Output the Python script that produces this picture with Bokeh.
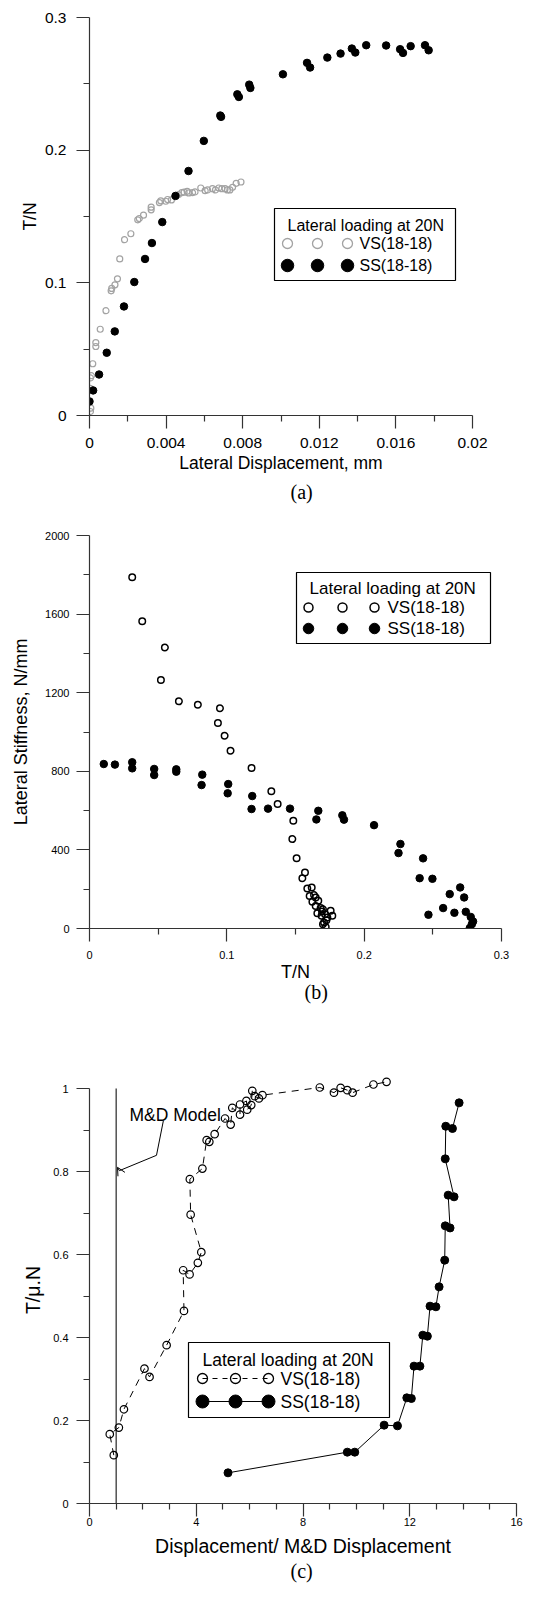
import numpy as np
from bokeh.plotting import figure
from bokeh.models import Range1d, FixedTicker, CustomJSTickFormatter, Label, Arrow, OpenHead, Title
from bokeh.layouts import column
from bokeh.embed import file_html
from bokeh.resources import INLINE
from bokeh.core.properties import value

SANS = "Liberation Sans"
SERIF = "Liberation Serif"

# ---------------- data: panel (a) ----------------
a_vs_x = [0.00005, 0.00007, 0.00003, 0.00005, 0.0001, 0.00017, 0.00033, 0.00033, 0.00056, 0.00086,
          0.00113, 0.00116, 0.00133, 0.00146, 0.00158, 0.00183, 0.00216, 0.00252, 0.0026, 0.00282,
          0.00322, 0.00322, 0.00365, 0.00372, 0.00398, 0.00408, 0.00428, 0.00465, 0.00482, 0.00494,
          0.0051, 0.00518, 0.00538, 0.00551, 0.00581, 0.00604, 0.00617, 0.00642, 0.00658, 0.00675,
          0.00691, 0.00708, 0.0072, 0.00733, 0.00747, 0.00766, 0.00791]
a_vs_y = [0.003, 0.0055, 0.0205, 0.0283, 0.030, 0.039, 0.052, 0.055, 0.065, 0.079,
          0.094, 0.0958, 0.0985, 0.103, 0.118, 0.1325, 0.137, 0.1475, 0.1485, 0.151,
          0.155, 0.157, 0.1605, 0.1618, 0.1615, 0.1628, 0.1625, 0.1665, 0.168, 0.1683,
          0.169, 0.1678, 0.168, 0.1685, 0.1715, 0.1695, 0.170, 0.171, 0.170, 0.1715,
          0.171, 0.171, 0.170, 0.170, 0.172, 0.175, 0.176]
a_ss_x = [0.0, 0.00019, 0.0005, 0.0009, 0.00132, 0.0018, 0.00234, 0.0029, 0.00326, 0.0038,
          0.00449, 0.00517, 0.00597, 0.00683, 0.00687, 0.00772, 0.0078, 0.00834, 0.0084, 0.0101,
          0.01136, 0.01152, 0.01242, 0.01311, 0.0137, 0.01388, 0.01445, 0.01549, 0.01622, 0.01637,
          0.01677, 0.01752, 0.01771]
a_ss_y = [0.0106, 0.0189, 0.0309, 0.0473, 0.0634, 0.0822, 0.1006, 0.118, 0.130, 0.1458,
          0.1655, 0.1843, 0.207, 0.2261, 0.2251, 0.2421, 0.2401, 0.2494, 0.2469, 0.2572,
          0.2658, 0.2623, 0.2698, 0.2728, 0.2766, 0.2736, 0.2791, 0.2789, 0.2761, 0.2733,
          0.2784, 0.2791, 0.2753]
a_xticks = [0, 0.004, 0.008, 0.012, 0.016, 0.02]
a_yticks = [0, 0.1, 0.2, 0.3]

# ---------------- data: panel (b) ----------------
b_vs_x = [0.0311, 0.0384, 0.0549, 0.052, 0.0651, 0.0789, 0.095, 0.0935, 0.0984, 0.1027,
          0.118, 0.1324, 0.137, 0.1484, 0.1477, 0.1508, 0.1569, 0.155, 0.1586, 0.1618,
          0.1603, 0.1635, 0.1623, 0.1647, 0.1666, 0.1647, 0.1659, 0.1683, 0.170, 0.1715,
          0.169, 0.1732, 0.1756, 0.1768, 0.1708, 0.172, 0.170, 0.1725, 0.1693]
b_vs_y = [1788, 1564, 1430, 1265, 1156, 1139, 1121, 1046, 981, 905,
          817, 698, 633, 548, 455, 357, 285, 256, 204, 209,
          166, 170, 136, 158, 141, 115, 78, 104, 98, 73,
          65, 56, 90, 65, 31, 8, 22, 42, 87]
b_ss_x = [0.0104, 0.0185, 0.0311, 0.0311, 0.0471, 0.0471, 0.0632, 0.0632, 0.0821, 0.0816,
          0.101, 0.1006, 0.1185, 0.118, 0.130, 0.146, 0.1666, 0.1652, 0.1841, 0.1853,
          0.2072, 0.2264, 0.225, 0.2429, 0.2404, 0.2497, 0.2468, 0.2575, 0.2623, 0.2657,
          0.2699, 0.2728, 0.274, 0.2776, 0.2793, 0.2769, 0.2784]
b_ss_y = [837, 834, 846, 815, 812, 781, 810, 798, 783, 730,
          735, 688, 674, 608, 610, 610, 599, 555, 576, 554,
          526, 430, 384, 357, 256, 253, 70, 104, 175, 80,
          209, 158, 85, 59, 36, 2, 22]
b_xticks = [0, 0.1, 0.2, 0.3]
b_yticks = [0, 400, 800, 1200, 1600, 2000]

# ---------------- data: panel (c) ----------------
c_vs_x = [0.91, 0.76, 1.1, 1.29, 2.06, 2.25, 2.89, 3.54, 3.51, 3.75,
          4.06, 4.19, 3.79, 3.76, 4.23, 4.39, 4.49, 4.69, 5.08, 5.29,
          5.35, 5.64, 5.64, 5.88, 5.91, 6.06, 6.1, 6.19, 6.35, 6.48,
          8.63, 9.16, 9.41, 9.66, 9.86, 10.64, 11.13]
c_vs_y = [0.1165, 0.167, 0.183, 0.227, 0.325, 0.305, 0.3815, 0.464, 0.562, 0.552,
          0.58, 0.6056, 0.696, 0.7815, 0.807, 0.8755, 0.8715, 0.89, 0.9277, 0.913,
          0.9534, 0.937, 0.9614, 0.970, 0.949, 0.96, 0.9944, 0.9815, 0.976, 0.984,
          1.0024, 0.990, 1.0016, 0.996, 0.990, 1.0096, 1.016]
c_ss_x = [5.19, 9.66, 9.94, 11.04, 11.54, 11.89, 12.06, 12.16, 12.38, 12.49,
          12.66, 12.76, 12.98, 13.1, 13.31, 13.33, 13.51, 13.44, 13.66, 13.33,
          13.35, 13.6, 13.85]
c_ss_y = [0.0739, 0.1237, 0.1237, 0.1888, 0.1871, 0.2546, 0.253, 0.331, 0.331, 0.4056,
          0.4032, 0.4755, 0.474, 0.522, 0.5863, 0.669, 0.664, 0.743, 0.739, 0.8305,
          0.909, 0.9036, 0.9655]
c_xticks = [0, 4, 8, 12, 16]
c_yticks = [0, 0.2, 0.4, 0.6, 0.8, 1]
md_model_x = 1.0

legend_title = "Lateral loading at 20N"
series_names = ["VS(18-18)", "SS(18-18)"]

AXIS_COLOR = "#333333"
GRAY = "#a3a3a3"

FMT = CustomJSTickFormatter(code="return String(Math.round(tick*1e6)/1e6);")


def make_fig(fw, fh, xr, yr, left, top, bottom, right):
    p = figure(frame_width=fw, frame_height=fh, x_range=Range1d(*xr), y_range=Range1d(*yr),
               output_backend="svg", toolbar_location=None,
               min_border_left=left, min_border_top=top, min_border_bottom=bottom,
               min_border_right=right)
    p.outline_line_color = None
    p.grid.visible = False
    p.extra_x_ranges = {"lx": Range1d(0, fw)}
    p.extra_y_ranges = {"ly": Range1d(fh, 0)}
    return p


def style_axes(p, xt, xminor, yt, yminor, tick_fs, xlab, ylab, lab_fs,
               x_std, y_std, x_lstd, y_lstd):
    for ax, ticks, minor, lab, std, lstd in ((p.xaxis[0], xt, xminor, xlab, x_std, x_lstd),
                                              (p.yaxis[0], yt, yminor, ylab, y_std, y_lstd)):
        ax.ticker = FixedTicker(ticks=ticks, minor_ticks=minor)
        ax.formatter = FMT
        ax.axis_line_color = AXIS_COLOR
        ax.axis_line_width = 1.2
        ax.major_tick_line_color = AXIS_COLOR
        ax.minor_tick_line_color = AXIS_COLOR
        ax.major_tick_line_width = 1.2
        ax.minor_tick_line_width = 1.2
        ax.major_tick_out = 13
        ax.major_tick_in = 0
        ax.minor_tick_out = 6
        ax.minor_tick_in = 0
        ax.major_label_text_font = SANS
        ax.major_label_text_font_size = tick_fs
        ax.major_label_text_color = "black"
        ax.major_label_standoff = std
        ax.axis_label = lab
        ax.axis_label_text_font = SANS
        ax.axis_label_text_font_size = lab_fs
        ax.axis_label_text_font_style = "normal"
        ax.axis_label_text_color = "black"
        ax.axis_label_standoff = lstd


def legend(p, box, title_xy, rows, marker_x, text_x, font_size, styles, lines=None):
    x0, y0, x1, y1 = box
    p.quad(left=[x0], right=[x1], top=[y0], bottom=[y1], x_range_name="lx", y_range_name="ly",
           fill_color="white", line_color="black", line_width=1.2)
    p.text(x=[title_xy[0]], y=[title_xy[1]], text=[legend_title], x_range_name="lx",
           y_range_name="ly", text_font=value(SANS), text_font_size=value(font_size),
           text_baseline="middle", text_align="left", text_color="black")
    for i, (ry, name, st) in enumerate(zip(rows, series_names, styles)):
        if lines is not None:
            p.line(x=[marker_x[0], marker_x[-1]], y=[ry, ry], x_range_name="lx", y_range_name="ly",
                   **lines[i])
        p.scatter(x=marker_x, y=[ry] * len(marker_x), x_range_name="lx", y_range_name="ly", **st)
        p.text(x=[text_x], y=[ry], text=[name], x_range_name="lx", y_range_name="ly",
               text_font=value(SANS), text_font_size=value(font_size),
               text_baseline="middle", text_align="left", text_color="black")


def caption(p, text, offset, standoff):
    p.add_layout(Title(text=text, align="left", offset=offset, standoff=standoff,
                       vertical_align="top", text_font=SERIF, text_font_size="20px",
                       text_font_style="normal", text_color="black"), "below")


# ---------------- panel (a) ----------------
pa = make_fig(383, 398, (0, 0.02), (0, 0.3), 75, 17, 95, 60)
style_axes(pa, a_xticks, list(np.arange(0.002, 0.02, 0.004)), a_yticks, [0.05, 0.15, 0.25],
           "15.5px", "Lateral Displacement, mm", "T/N", "17.5px", 9, 10, 2, 2)
pa.scatter(a_vs_x, a_vs_y, marker="circle", size=6, fill_color=None, line_color=GRAY, line_width=1.2)
pa.scatter(a_ss_x, a_ss_y, marker="circle", size=7.5, fill_color="black", line_color="black")
legend(pa, (185, 191, 366, 263), (198, 208), [226, 248], [198, 228, 258], 270, "16px",
       [dict(marker="circle", size=10, fill_color=None, line_color=GRAY, line_width=1.3),
        dict(marker="circle", size=12.5, fill_color="black", line_color="black")])
caption(pa, "(a)", 201, 10)

# ---------------- panel (b) ----------------
pb = make_fig(412, 393, (0, 0.3), (0, 2000), 87, 25, 95, 35)
style_axes(pb, b_xticks, [0.05, 0.15, 0.25], b_yticks, [200, 600, 1000, 1400, 1800],
           "11px", "T/N", "Lateral Stiffness, N/mm", "18px", 9, 7, 0, 11)
pb.scatter(b_vs_x, b_vs_y, marker="circle", size=6.5, fill_color=None, line_color="black", line_width=1.5)
pb.scatter(b_ss_x, b_ss_y, marker="circle", size=7.5, fill_color="black", line_color="black")
legend(pb, (207, 37, 401, 108), (220, 53), [72, 93], [219, 253, 285], 298, "17px",
       [dict(marker="circle", size=9, fill_color=None, line_color="black", line_width=1.5),
        dict(marker="circle", size=10.5, fill_color="black", line_color="black")])
caption(pb, "(b)", 215, -8)

# ---------------- panel (c) ----------------
C_FH = 427
pc = make_fig(427, C_FH, (0, 16), (0, C_FH / 415), 89, 53, 85, 18)
style_axes(pc, c_xticks, [1, 2, 3, 5, 6, 7, 9, 10, 11, 13, 14, 15], c_yticks,
           [0.1, 0.3, 0.5, 0.7, 0.9], "11px", "Displacement/ M&D Displacement", "T/\u03bc.N",
           "19.5px", 1, 8, 6, 6)
pc.yaxis[0].bounds = (c_yticks[0], c_yticks[-1])
pc.line([md_model_x, md_model_x], [c_yticks[0], c_yticks[-1]], line_color="#444444", line_width=1.4)
pc.line(c_vs_x, c_vs_y, line_color="black", line_width=1, line_dash="7 6")
pc.scatter(c_vs_x, c_vs_y, marker="circle", size=7.5, fill_color=None, line_color="black", line_width=1.2)
pc.line(c_ss_x, c_ss_y, line_color="black", line_width=1)
pc.scatter(c_ss_x, c_ss_y, marker="circle", size=8, fill_color="black", line_color="black")
pc.line([2.77, 2.51, 1.12], [0.923, 0.839, 0.802], line_color="black", line_width=1)
pc.add_layout(Arrow(end=OpenHead(size=8, line_width=1, line_color="black"), x_start=1.12, y_start=0.802,
                    x_end=md_model_x + 0.05, y_end=0.81, line_color="black", line_width=1))
pc.add_layout(Label(x=1.5, y=0.937, text="M&D Model", text_font=SANS, text_font_size="17.5px",
                    text_baseline="alphabetic", text_color="black"))
legend(pc, (99, 266, 300, 341), (113, 283), [302, 325], [113, 146, 179], 191, "17.5px",
       [dict(marker="circle", size=10, fill_color=None, line_color="black", line_width=1.3),
        dict(marker="circle", size=13, fill_color="black", line_color="black")],
       lines=[dict(line_color="black", line_width=1, line_dash="5 5"),
              dict(line_color="black", line_width=1.2)])
caption(pc, "(c)", 201, 0)

layout = column(pa, pb, pc)
open("out.html", "w").write(file_html(layout, INLINE))
